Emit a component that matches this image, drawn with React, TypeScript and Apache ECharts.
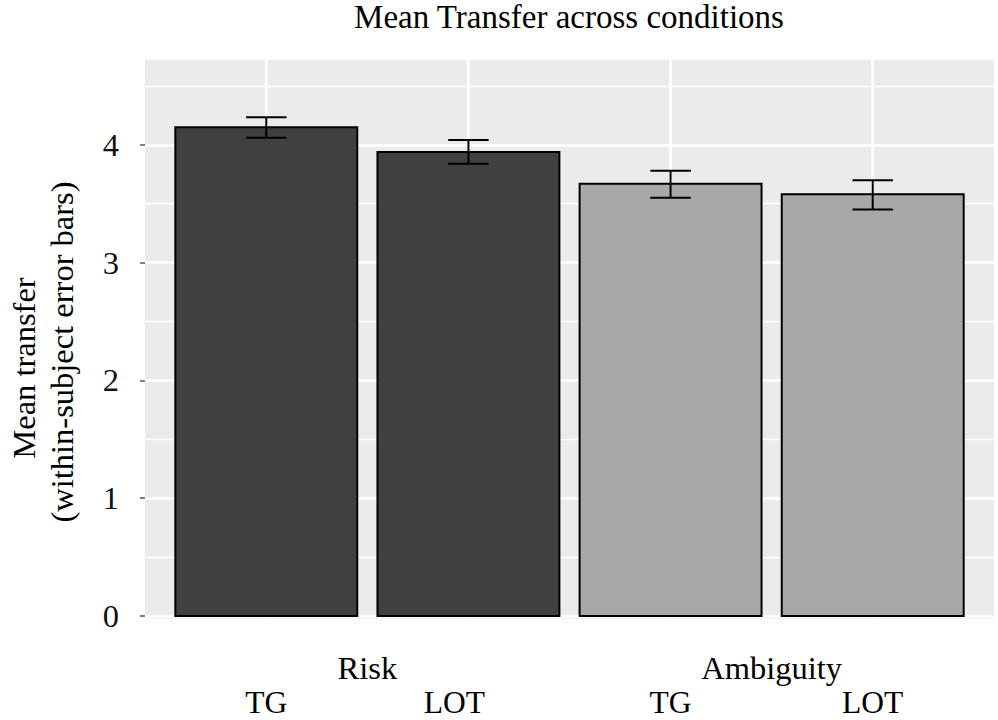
import React, { useEffect, useRef } from "react";
import * as echarts from "echarts";

const groups = ["Risk", "Ambiguity"];
const conditions = ["TG", "LOT", "TG", "LOT"];
const groupOf = ["Risk", "Risk", "Ambiguity", "Ambiguity"];
const means = [4.15, 3.94, 3.67, 3.58];
const lower = [4.06, 3.84, 3.55, 3.45];
const upper = [4.235, 4.04, 3.78, 3.7];
const yTicks = [0, 1, 2, 3, 4];
const groupColors = ["#404040", "#A8A8A8"];

const positions = conditions.map((_, i) => i + 1);
const groupCenters = groups.map((g) => {
  const ps = positions.filter((_, i) => groupOf[i] === g);
  return ps.reduce((a, b) => a + b, 0) / ps.length;
});

const FONT = "Liberation Serif";

export default function App() {
  const ref = useRef<HTMLDivElement>(null);
  useEffect(() => {
    if (!ref.current) return;
    const chart = echarts.init(ref.current, null, { renderer: "svg" });
    const data = positions.map((p, i) => [
      p,
      means[i],
      lower[i],
      upper[i],
      groups.indexOf(groupOf[i]),
    ]);
    const option: any = {
      animation: false,
      backgroundColor: "#ffffff",
      title: {
        text: "Mean Transfer across conditions",
        left: 564,
        top: -5,
        textAlign: "center",
        textStyle: { fontFamily: FONT, fontSize: 33, fontWeight: "normal", color: "#000" },
      },
      grid: {
        left: 145,
        right: 4,
        top: 60,
        bottom: 104,
        containLabel: false,
        outerBoundsMode: "none",
        show: true,
        backgroundColor: "#EBEBEB",
        borderWidth: 0,
      },
      graphic: [
        {
          type: "rect",
          left: 145,
          top: 616.8,
          shape: { width: 849, height: 1.6 },
          style: { fill: "#EBEBEB" },
          z: -1,
          silent: true,
        },
      ],
      xAxis: [
        {
          type: "value",
          min: 0.4,
          max: 4.6,
          axisLine: { show: false },
          axisTick: { show: false },
          splitLine: { show: false },
          axisLabel: {
            customValues: positions,
            formatter: (v: number) => {
              const i = positions.indexOf(v);
              if (i < 0) return "";
              return i === 1 ? "{s|" + conditions[i] + "}" : "{n|" + conditions[i] + "}";
            },
            margin: 74,
            fontFamily: FONT,
            fontSize: 31.5,
            lineHeight: 24,
            color: "#000",
            rich: {
              n: { fontFamily: FONT, fontSize: 31.5, lineHeight: 24, color: "#000" },
              s: { fontFamily: FONT, fontSize: 31.5, lineHeight: 24, color: "#000", padding: [0, 28, 0, 0] },
            },
          },
        },
        {
          type: "value",
          position: "bottom",
          min: 0.4,
          max: 4.6,
          axisLine: { show: false },
          axisTick: { show: false },
          splitLine: { show: false },
          axisLabel: {
            customValues: groupCenters,
            formatter: (v: number) => {
              const i = groupCenters.indexOf(v);
              return i < 0 ? "" : groups[i];
            },
            margin: 35,
            fontFamily: FONT,
            fontSize: 32.5,
            color: "#000",
          },
        },
      ],
      yAxis: [
        {
          type: "value",
          min: 0,
          max: 4.72,
          interval: 1,
          axisLine: { show: false },
          axisTick: { show: true, length: 5, lineStyle: { color: "#555", width: 1.5 } },
          axisLabel: {
            showMaxLabel: false,
            formatter: (v: number) => (yTicks.indexOf(v) >= 0 ? String(v) : ""),
            margin: 26,
            fontFamily: FONT,
            fontSize: 32.5,
            color: "#111",
          },
          splitLine: { show: true, showMaxLine: false, lineStyle: { color: "#ffffff", width: 2.7 } },
          name: "{a|Mean transfer}\n{b|(within-subject error bars)}",
          nameLocation: "middle",
          nameGap: 64,
          nameTextStyle: {
            fontFamily: FONT,
            fontSize: 32.5,
            color: "#000",
            lineHeight: 38,
            rich: {
              a: { fontFamily: FONT, fontSize: 32.5, color: "#000", lineHeight: 38, padding: [0, 60, 0, 0] },
              b: { fontFamily: FONT, fontSize: 32.5, color: "#000", lineHeight: 38, padding: [0, 28, 0, 0] },
            },
          },
        },
        {
          type: "value",
          min: 0,
          max: 4.72,
          interval: 0.5,
          axisLine: { show: false },
          axisTick: { show: false },
          axisLabel: { show: false },
          splitLine: { show: true, showMaxLine: false, lineStyle: { color: "#ffffff", width: 1.4 } },
        },
      ],
      series: [
        {
          type: "custom",
          xAxisIndex: 0,
          yAxisIndex: 0,
          clip: false,
          encode: { x: 0, y: 1 },
          data,
          renderItem: (params: any, api: any) => {
            const x = api.value(0);
            const m = api.value(1);
            const lo = api.value(2);
            const hi = api.value(3);
            const gi = api.value(4);
            const cs = params.coordSys;
            const [cx, top] = api.coord([x, m]);
            const base = api.coord([x, 0])[1];
            const w = api.size([0.9, 0])[0];
            const cap = api.size([0.2, 0])[0];
            const yLo = api.coord([x, lo])[1];
            const yHi = api.coord([x, hi])[1];
            const lineStyle = { stroke: "#000", lineWidth: 2 };
            return {
              type: "group",
              children: [
                {
                  type: "line",
                  shape: { x1: cx, y1: cs.y, x2: cx, y2: cs.y + cs.height + 2.4 },
                  style: { stroke: "#ffffff", lineWidth: 2.7 },
                },
                {
                  type: "rect",
                  shape: { x: cx - w / 2, y: top, width: w, height: base - top },
                  style: { fill: groupColors[gi], stroke: "#000", lineWidth: 2 },
                },
                { type: "line", shape: { x1: cx, y1: yHi, x2: cx, y2: yLo }, style: lineStyle },
                { type: "line", shape: { x1: cx - cap / 2, y1: yHi, x2: cx + cap / 2, y2: yHi }, style: lineStyle },
                { type: "line", shape: { x1: cx - cap / 2, y1: yLo, x2: cx + cap / 2, y2: yLo }, style: lineStyle },
              ],
            };
          },
        },
      ],
    };
    chart.setOption(option);
    return () => chart.dispose();
  }, []);
  return (
    <div
      ref={ref}
      style={{ position: "absolute", left: 0, top: 0, width: 998, height: 720 }}
    />
  );
}
